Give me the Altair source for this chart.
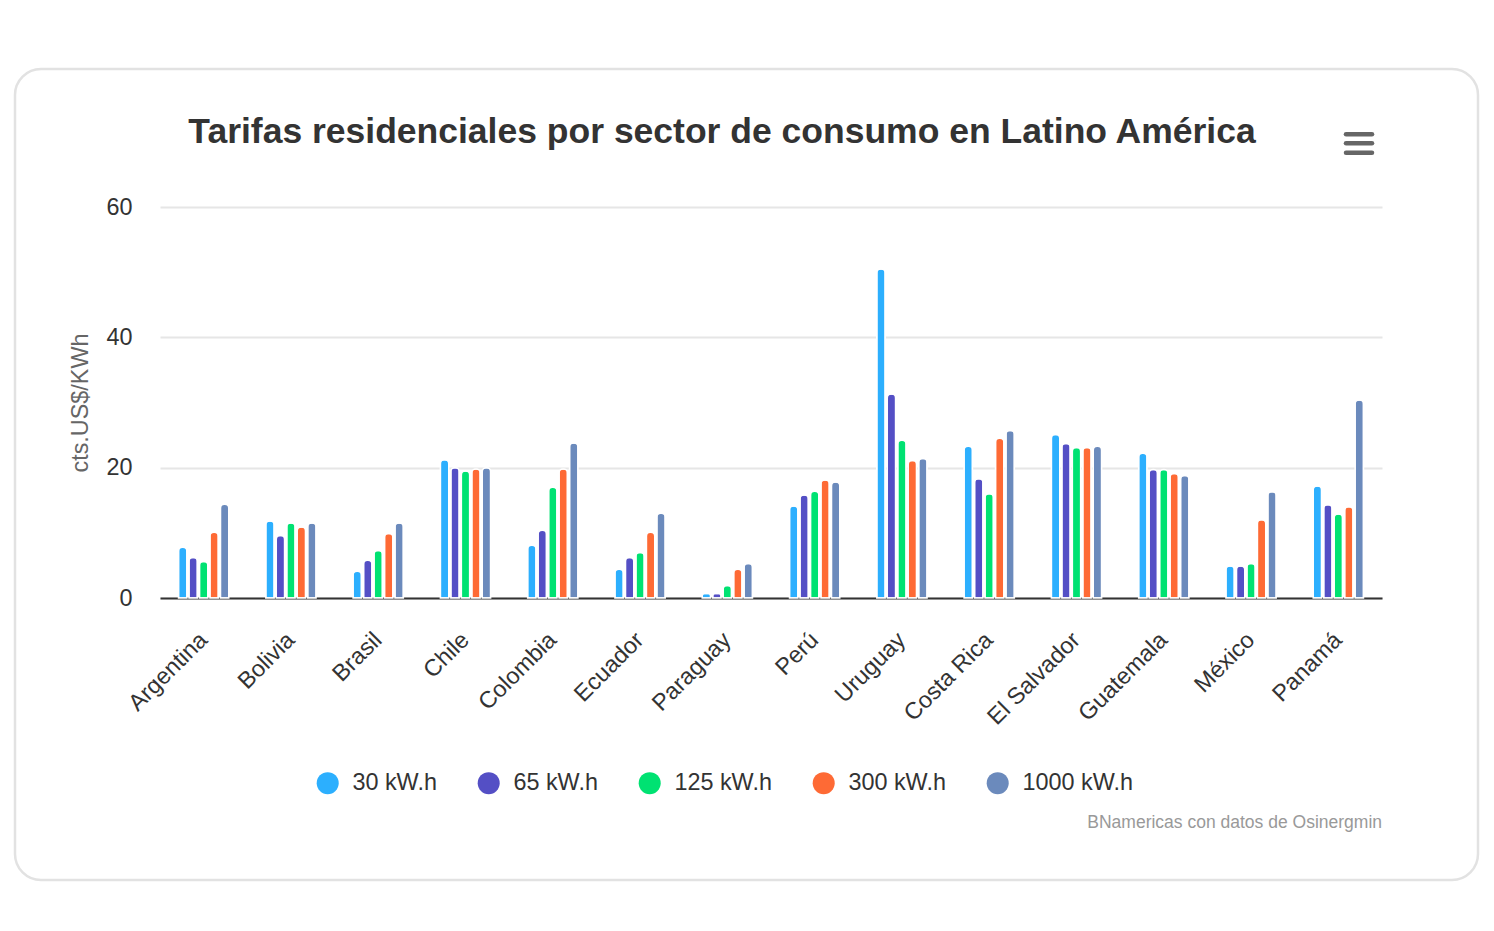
import altair as alt
import pandas as pd

countries = ["Argentina", "Bolivia", "Brasil", "Chile", "Colombia", "Ecuador", "Paraguay",
             "Perú", "Uruguay", "Costa Rica", "El Salvador", "Guatemala", "México", "Panamá"]
series_names = ["30 kW.h", "65 kW.h", "125 kW.h", "300 kW.h", "1000 kW.h"]
series_colors = ["#2caffe", "#544fc5", "#00e272", "#fe6a35", "#6b8abc"]

s30 = [7.8, 11.8, 4.1, 21.2, 8.1, 4.4, 0.7, 14.1, 50.5, 23.3, 25.1, 22.2, 4.9, 17.2]
s65 = [6.2, 9.6, 5.8, 20.0, 10.4, 6.2, 0.7, 15.8, 31.3, 18.3, 23.7, 19.7, 4.9, 14.3]
s125 = [5.6, 11.5, 7.3, 19.5, 17.0, 7.0, 1.9, 16.4, 24.2, 16.0, 23.1, 19.7, 5.3, 12.9]
s300 = [10.1, 10.9, 9.9, 19.8, 19.8, 10.1, 4.4, 18.1, 21.1, 24.5, 23.1, 19.1, 12.0, 14.0]
s1000 = [14.4, 11.5, 11.5, 20.0, 23.8, 13.0, 5.3, 17.8, 21.4, 25.7, 23.3, 18.8, 16.3, 30.4]

title_text = "Tarifas residenciales por sector de consumo en Latino América"
y_title = "cts.US$/KWh"
credits_text = "BNamericas con datos de Osinergmin"

rows = []
for name, vals in zip(series_names, [s30, s65, s125, s300, s1000]):
    for c, v in zip(countries, vals):
        rows.append({"pais": c, "serie": name, "valor": v})
df = pd.DataFrame(rows)

W, H = 1222, 391
FS = 23.4

bars = alt.Chart(df).mark_bar(
    stroke="white", strokeWidth=1.5,
    cornerRadiusTopLeft=4, cornerRadiusTopRight=4
).encode(
    x=alt.X("pais:N", sort=countries,
            scale=alt.Scale(paddingInner=0.4, paddingOuter=0.2),
            axis=alt.Axis(title=None, labelAngle=-45, labelAlign="right", labelBaseline="middle",
                          labelFontSize=FS, labelColor="#333333", labelPadding=38,
                          ticks=False, domainColor="#333333", domainWidth=1.8, grid=False)),
    xOffset=alt.XOffset("serie:N", sort=series_names,
                        scale=alt.Scale(paddingInner=0.2, paddingOuter=0.1)),
    y=alt.Y("valor:Q", scale=alt.Scale(domain=[0, 60], nice=False),
            axis=alt.Axis(title=y_title, values=[0, 20, 40, 60], labelFontSize=FS,
                          labelColor="#333333", labelPadding=28, ticks=False, domain=False,
                          gridColor="#e6e6e6", gridWidth=1.8,
                          titleFontSize=FS, titleColor="#666666", titleFontWeight="normal",
                          titlePadding=13)),
    color=alt.Color("serie:N", sort=series_names,
                    scale=alt.Scale(domain=series_names, range=series_colors),
                    legend=alt.Legend(title=None, orient="none", direction="horizontal",
                                      legendX=156, legendY=564,
                                      symbolType="circle", symbolSize=484, symbolStrokeWidth=0,
                                      labelFontSize=FS, labelColor="#333333", labelOffset=13,
                                      columnPadding=40)),
)

one = alt.Data(values=[{"k": 1}])

card = alt.Chart(one).mark_rect(
    fill="transparent", stroke="#e2e2e2", strokeWidth=2.5, cornerRadius=26
).encode(x=alt.value(-145), x2=alt.value(1318), y=alt.value(-138), y2=alt.value(673))

title = alt.Chart(one).mark_text(
    fontSize=35.5, fontWeight="bold", color="#333333", align="center", baseline="alphabetic"
).encode(x=alt.value(562), y=alt.value(-64), text=alt.value(title_text))

credits = alt.Chart(one).mark_text(
    fontSize=17.5, color="#999999", align="right", baseline="middle"
).encode(x=alt.value(1222), y=alt.value(616), text=alt.value(credits_text))

menu = [
    alt.Chart(one).mark_rule(strokeWidth=4.5, strokeCap="round", color="#666666").encode(
        x=alt.value(1186), x2=alt.value(1212), y=alt.value(yy))
    for yy in [-72.7, -63.7, -54.3]
]

chart = alt.layer(card, bars, title, credits, *menu).properties(
    width=W, height=H,
    autosize=alt.AutoSizeParams(type="none"),
    padding={"left": 152, "top": 199, "right": 100, "bottom": 290},
    background="white",
).configure(font="Liberation Sans").configure_view(stroke=None)

chart.save("out.html", embed_options={"renderer": "svg", "actions": False})
